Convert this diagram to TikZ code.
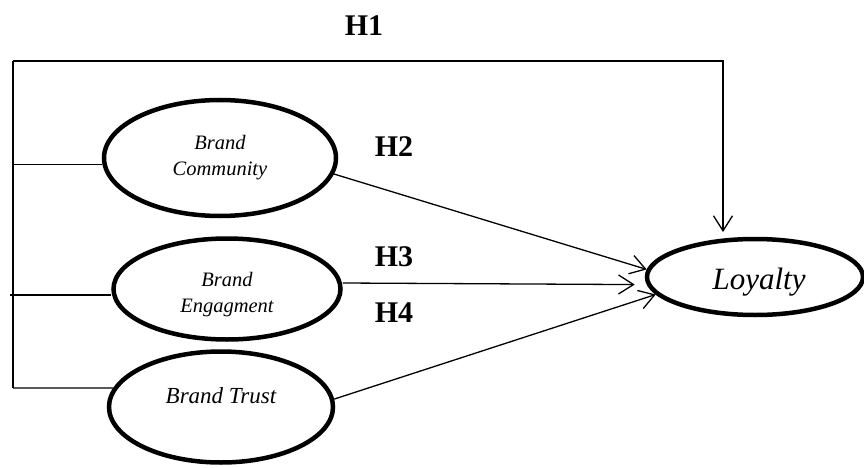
\documentclass[tikz,border=0pt]{standalone}
\usepackage{fontspec}
\setmainfont{Liberation Serif}
\usetikzlibrary{arrows.meta,shapes.geometric}

\tikzset{
  construct/.style={draw, ellipse, line width=4.5pt, inner sep=0pt, align=center,
    font=\fontsize{20.5}{26}\selectfont\itshape},
  link/.style={line width=1.3pt},
  path/.style={link, -{Straight Barb[length=15pt,width=19pt,line width=1.3pt]}},
  hyp/.style={font=\fontsize{30}{34}\selectfont\bfseries}
}
% shift a label without changing the space it takes
\newcommand{\nudge}[2]{\raisebox{#1}[\height][\depth]{#2}}

\begin{document}
\begin{tikzpicture}[x=1pt,y=-1pt]
  \useasboundingbox (0,0) rectangle (864,468);

  % latent constructs
  \node[construct, minimum width=232pt, minimum height=116pt] (comm) at (220,158) {Brand\\Community};
  \node[construct, minimum width=227pt, minimum height=101pt] (eng) at (227,289)
    {\nudge{-5.5pt}{\begin{tabular}{@{}c@{}}Brand\\Engagment\end{tabular}}};
  \node[construct, minimum width=224pt, minimum height=111pt,
        font=\fontsize{23}{26}\selectfont\itshape] (trust) at (221,407) {\nudge{11pt}{Brand Trust}};
  \node[construct, minimum width=216pt, minimum height=76pt,
        font=\fontsize{31}{36}\selectfont\itshape] (loy) at (755,277) {\hspace*{8pt}\nudge{-5pt}{Loyalty}};

  % bracket joining the three antecedents
  \coordinate (top) at (13,61);
  \coordinate (bot) at (13,388);
  \coordinate (h1end) at (723,232);
  \coordinate (engstub) at (10,295);
  \draw[link] (top) -- (bot);
  \draw[link] (comm.183 -| top) -- (comm.183);
  \draw[link] (engstub) -- (eng.west |- engstub);
  \draw[link] (bot) -- (trust.170);

  % hypothesised paths
  \draw[path] (top) -| (h1end);
  \draw[path] (comm.-8) -- (loy.176);
  \draw[path] ([yshift=6pt]eng.east) -- ([xshift=-12pt]loy.184);
  \draw[path] (trust.4) -- (loy.190);

  % hypothesis labels
  \node[hyp] (h1) at (364,26) {H1};
  \node[hyp] (h2) at (394,147) {H2};
  \node[hyp] (h3) at (394,257) {H3};
  \node[hyp] (h4) at (394,313) {H4};
\end{tikzpicture}
\end{document}
